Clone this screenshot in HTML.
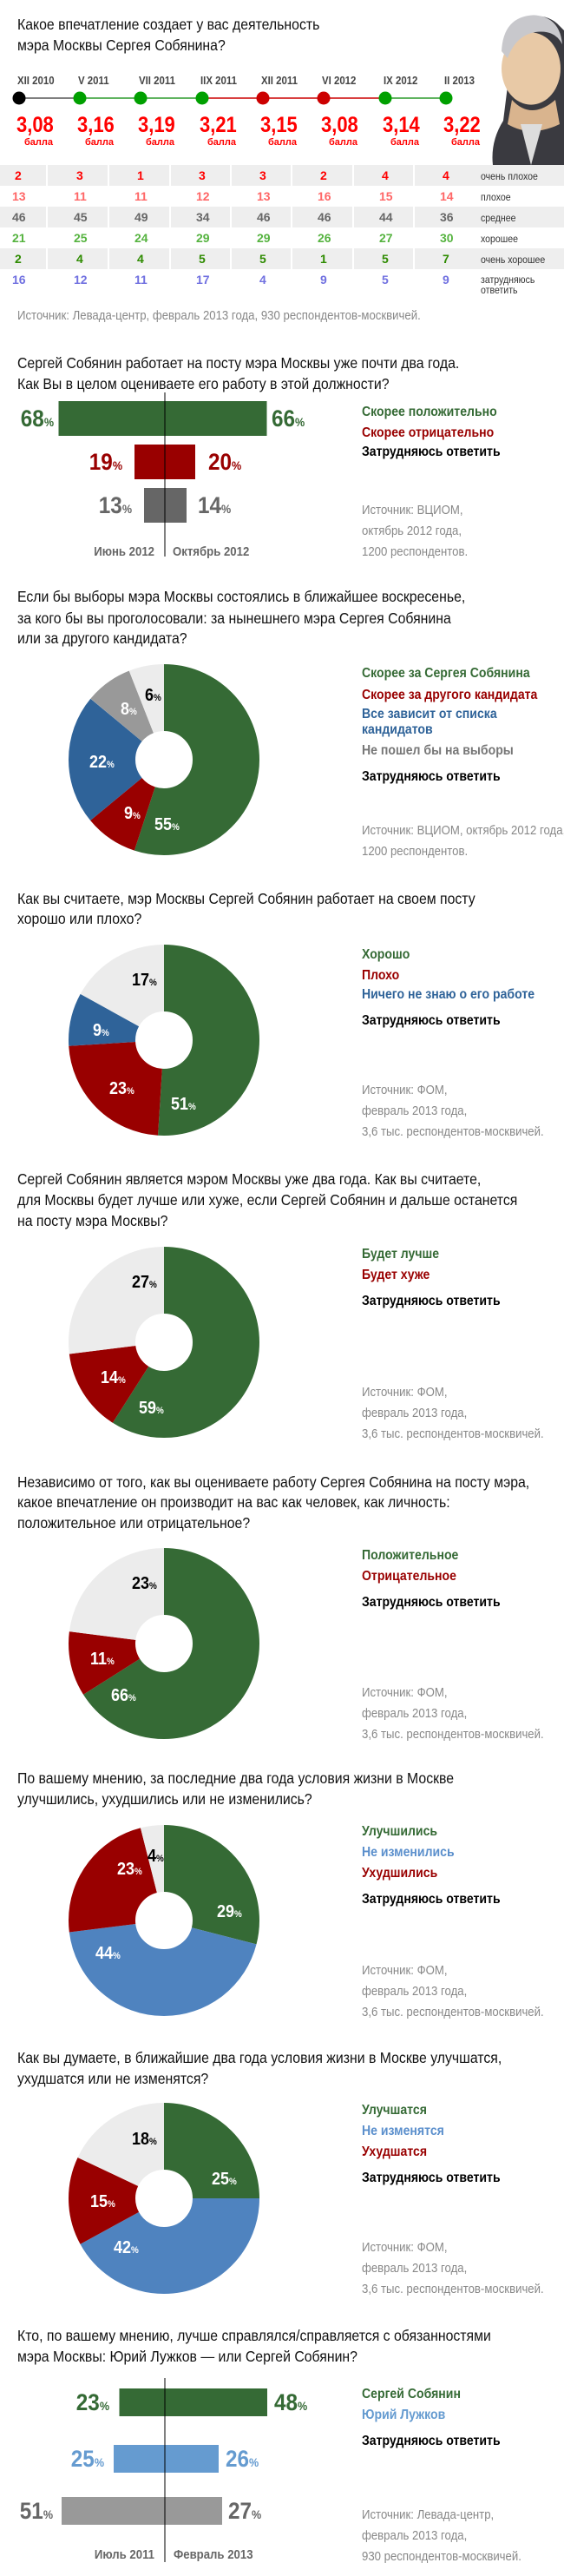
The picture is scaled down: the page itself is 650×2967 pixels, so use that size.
<!DOCTYPE html>
<html><head><meta charset="utf-8"><style>
html,body{margin:0;padding:0;background:#fff;width:650px;height:2967px;overflow:hidden}
svg{display:block}
text{font-family:"Liberation Sans Narrow","Liberation Sans",sans-serif;transform-box:fill-box;transform-origin:0 0}
.q{font-size:18px;fill:#111;transform:scaleX(.88)}
.src{font-size:15px;fill:#888;transform:scaleX(.88)}
.lg{font-size:16px;font-weight:bold;transform:scaleX(.88)}
.pl{font-size:20px;font-weight:bold;transform:scaleX(.9)}
.bl{font-size:27px;font-weight:bold;transform:scaleX(.9)}
.e{transform-origin:100% 0}
.n{transform:scaleX(.88)}
</style></head><body>
<svg width="650" height="2967" viewBox="0 0 650 2967" xmlns="http://www.w3.org/2000/svg">
<!-- Section 1 -->
<text class="q" x="20" y="34">Какое впечатление создает у вас деятельность</text>
<text class="q" x="20" y="58">мэра Москвы Сергея Собянина?</text>
<!-- portrait -->
<g transform="translate(0 3) scale(1 0.8)">
<path d="M585 120 Q575 60 600 25 Q625 12 642 30 L650 40 L650 234 L568 234 Q565 200 580 170 Z" fill="#3a3a40"/>
<ellipse cx="612" cy="95" rx="34" ry="52" fill="#e8c9a6"/>
<path d="M578 70 Q580 20 615 18 Q645 20 648 60 Q640 40 620 42 Q595 45 585 80 Z" fill="#c8c8cc"/>
<path d="M590 140 Q612 170 640 140 L645 175 Q612 195 585 175 Z" fill="#d9b48e"/>
<path d="M600 175 L612 234 L625 175 Z" fill="#ddd"/>
</g>
<!-- timeline -->
<g font-size="13" font-weight="bold" fill="#444">
<text class="n" x="20" y="97">XII 2010</text><text class="n" x="90" y="97">V 2011</text><text class="n" x="160" y="97">VII 2011</text><text class="n" x="231" y="97">IIX 2011</text>
<text class="n" x="301" y="97">XII 2011</text><text class="n" x="371" y="97">VI 2012</text><text class="n" x="442" y="97">IX 2012</text><text class="n" x="512" y="97">II 2013</text>
</g>
<line x1="22" y1="113" x2="92" y2="113" stroke="#555" stroke-width="1.5"/>
<line x1="92" y1="113" x2="233" y2="113" stroke="#2a9a2a" stroke-width="1.5"/>
<line x1="233" y1="113" x2="444" y2="113" stroke="#c00" stroke-width="1.5"/>
<line x1="444" y1="113" x2="514" y2="113" stroke="#2a9a2a" stroke-width="1.5"/>
<circle cx="22" cy="113" r="7.5" fill="#000"/>
<circle cx="92" cy="113" r="7.5" fill="#00a000"/><circle cx="162" cy="113" r="7.5" fill="#00a000"/><circle cx="233" cy="113" r="7.5" fill="#00a000"/>
<circle cx="303" cy="113" r="7.5" fill="#cc0000"/><circle cx="373" cy="113" r="7.5" fill="#cc0000"/>
<circle cx="444" cy="113" r="7.5" fill="#00a000"/><circle cx="514" cy="113" r="7.5" fill="#00a000"/>
<g font-size="25" font-weight="bold" fill="#ff0000">
<text class="n" x="19" y="152">3,08</text><text class="n" x="89" y="152">3,16</text><text class="n" x="159" y="152">3,19</text><text class="n" x="230" y="152">3,21</text>
<text class="n" x="300" y="152">3,15</text><text class="n" x="370" y="152">3,08</text><text class="n" x="441" y="152">3,14</text><text class="n" x="511" y="152">3,22</text>
</g>
<g font-size="11" font-weight="bold" fill="#ff0000" text-anchor="end">
<text x="61" y="167">балла</text><text x="131" y="167">балла</text><text x="201" y="167">балла</text><text x="272" y="167">балла</text>
<text x="342" y="167">балла</text><text x="412" y="167">балла</text><text x="483" y="167">балла</text><text x="553" y="167">балла</text>
</g>
<!-- table -->
<rect x="0" y="190" width="650" height="24" fill="#eee"/>
<rect x="0" y="238" width="650" height="24" fill="#eee"/>
<rect x="0" y="286" width="650" height="24" fill="#eee"/>
<g stroke="#fff" stroke-width="2">
<line x1="54" y1="190" x2="54" y2="340"/><line x1="125" y1="190" x2="125" y2="340"/><line x1="196" y1="190" x2="196" y2="340"/>
<line x1="266" y1="190" x2="266" y2="340"/><line x1="336" y1="190" x2="336" y2="340"/><line x1="407" y1="190" x2="407" y2="340"/><line x1="477" y1="190" x2="477" y2="340"/>
</g>
<g font-size="14" font-weight="bold">
<g fill="#ff0000"><text x="17" y="207">2</text><text x="88" y="207">3</text><text x="158" y="207">1</text><text x="229" y="207">3</text><text x="299" y="207">3</text><text x="369" y="207">2</text><text x="440" y="207">4</text><text x="510" y="207">4</text></g>
<g fill="#ff6666"><text x="14" y="231">13</text><text x="85" y="231">11</text><text x="155" y="231">11</text><text x="226" y="231">12</text><text x="296" y="231">13</text><text x="366" y="231">16</text><text x="437" y="231">15</text><text x="507" y="231">14</text></g>
<g fill="#666"><text x="14" y="255">46</text><text x="85" y="255">45</text><text x="155" y="255">49</text><text x="226" y="255">34</text><text x="296" y="255">46</text><text x="366" y="255">46</text><text x="437" y="255">44</text><text x="507" y="255">36</text></g>
<g fill="#55b33f"><text x="14" y="279">21</text><text x="85" y="279">25</text><text x="155" y="279">24</text><text x="226" y="279">29</text><text x="296" y="279">29</text><text x="366" y="279">26</text><text x="437" y="279">27</text><text x="507" y="279">30</text></g>
<g fill="#2e8b00"><text x="17" y="303">2</text><text x="88" y="303">4</text><text x="158" y="303">4</text><text x="229" y="303">5</text><text x="299" y="303">5</text><text x="369" y="303">1</text><text x="440" y="303">5</text><text x="510" y="303">7</text></g>
<g fill="#7070e0"><text x="14" y="327">16</text><text x="85" y="327">12</text><text x="155" y="327">11</text><text x="226" y="327">17</text><text x="299" y="327">4</text><text x="369" y="327">9</text><text x="440" y="327">5</text><text x="510" y="327">9</text></g>
</g>
<g font-size="12" fill="#333">
<text class="n" x="554" y="207">очень плохое</text><text class="n" x="554" y="231">плохое</text><text class="n" x="554" y="255">среднее</text>
<text class="n" x="554" y="279">хорошее</text><text class="n" x="554" y="303">очень хорошее</text><text class="n" x="554" y="326">затрудняюсь</text><text class="n" x="554" y="338">ответить</text>
</g>
<text class="src" x="20" y="368">Источник: Левада-центр, февраль 2013 года, 930 респондентов-москвичей.</text>

<!-- Section 2 -->
<text class="q" x="20" y="424">Сергей Собянин работает на посту мэра Москвы уже почти два года.</text>
<text class="q" x="20" y="448">Как Вы в целом оцениваете его работу в этой должности?</text>
<rect x="67.5" y="462" width="240" height="40" fill="#356a35"/>
<rect x="155" y="512" width="70" height="40" fill="#990000"/>
<rect x="166" y="562" width="49" height="40" fill="#666"/>
<line x1="190" y1="452" x2="190" y2="641" stroke="#000" stroke-width="1"/>
<text class="bl e" x="62" y="491" text-anchor="end" fill="#356a35">68<tspan font-size="14">%</tspan></text>
<text class="bl" x="313" y="491" fill="#356a35">66<tspan font-size="14">%</tspan></text>
<text class="bl e" x="141" y="541" text-anchor="end" fill="#990000">19<tspan font-size="14">%</tspan></text>
<text class="bl" x="240" y="541" fill="#990000">20<tspan font-size="14">%</tspan></text>
<text class="bl e" x="152" y="591" text-anchor="end" fill="#666">13<tspan font-size="14">%</tspan></text>
<text class="bl" x="228" y="591" fill="#666">14<tspan font-size="14">%</tspan></text>
<text class="n e" x="178" y="640" text-anchor="end" font-size="15" font-weight="bold" fill="#666">Июнь 2012</text>
<text class="n" x="199" y="640" font-size="15" font-weight="bold" fill="#666">Октябрь 2012</text>
<text class="lg" x="417" y="479" fill="#356a35">Скорее положительно</text>
<text class="lg" x="417" y="503" fill="#990000">Скорее отрицательно</text>
<text class="lg" x="417" y="525" fill="#000">Затрудняюсь ответить</text>
<text class="src" x="417" y="592">Источник: ВЦИОМ,</text>
<text class="src" x="417" y="616">октябрь 2012 года,</text>
<text class="src" x="417" y="640">1200 респондентов.</text>

<!-- Section 3 -->
<text class="q" x="20" y="693">Если бы выборы мэра Москвы состоялись в ближайшее воскресенье,</text>
<text class="q" x="20" y="718">за кого бы вы проголосовали:  за нынешнего мэра Сергея Собянина</text>
<text class="q" x="20" y="741">или за другого кандидата?</text>
<g transform="translate(189 875) rotate(-90)" fill="none" stroke-width="77">
<circle r="71.5" stroke="#356a35" stroke-dasharray="247.1 449.25"/>
<circle r="71.5" stroke="#990000" stroke-dasharray="40.4 449.25" stroke-dashoffset="-247.1"/>
<circle r="71.5" stroke="#2f6399" stroke-dasharray="98.8 449.25" stroke-dashoffset="-287.5"/>
<circle r="71.5" stroke="#999" stroke-dasharray="35.9 449.25" stroke-dashoffset="-386.4"/>
<circle r="71.5" stroke="#ececec" stroke-dasharray="27 449.25" stroke-dashoffset="-422.3"/>
</g>
<text class="pl" x="167" y="807" fill="#000">6<tspan font-size="11">%</tspan></text>
<text class="pl" x="139" y="823" fill="#fff">8<tspan font-size="11">%</tspan></text>
<text class="pl" x="103" y="884" fill="#fff">22<tspan font-size="11">%</tspan></text>
<text class="pl" x="143" y="943" fill="#fff">9<tspan font-size="11">%</tspan></text>
<text class="pl" x="178" y="956" fill="#fff">55<tspan font-size="11">%</tspan></text>
<text class="lg" x="417" y="780" fill="#356a35">Скорее за Сергея Собянина</text>
<text class="lg" x="417" y="805" fill="#990000">Скорее за другого кандидата</text>
<text class="lg" x="417" y="827" fill="#2f6399">Все зависит от списка</text>
<text class="lg" x="417" y="845" fill="#2f6399">кандидатов</text>
<text class="lg" x="417" y="869" fill="#777">Не пошел бы на выборы</text>
<text class="lg" x="417" y="899" fill="#000">Затрудняюсь ответить</text>
<text class="src" x="417" y="961">Источник: ВЦИОМ, октябрь 2012 года,</text>
<text class="src" x="417" y="985">1200 респондентов.</text>

<!-- Section 4 -->
<text class="q" x="20" y="1041">Как вы считаете, мэр Москвы Сергей Собянин работает на своем посту</text>
<text class="q" x="20" y="1064">хорошо или плохо?</text>
<g transform="translate(189 1198) rotate(-90)" fill="none" stroke-width="77">
<circle r="71.5" stroke="#356a35" stroke-dasharray="229.1 449.25"/>
<circle r="71.5" stroke="#990000" stroke-dasharray="103.3 449.25" stroke-dashoffset="-229.1"/>
<circle r="71.5" stroke="#2f6399" stroke-dasharray="40.4 449.25" stroke-dashoffset="-332.4"/>
<circle r="71.5" stroke="#ececec" stroke-dasharray="76.4 449.25" stroke-dashoffset="-372.8"/>
</g>
<text class="pl" x="152" y="1135" fill="#000">17<tspan font-size="11">%</tspan></text>
<text class="pl" x="107" y="1193" fill="#fff">9<tspan font-size="11">%</tspan></text>
<text class="pl" x="126" y="1260" fill="#fff">23<tspan font-size="11">%</tspan></text>
<text class="pl" x="197" y="1278" fill="#fff">51<tspan font-size="11">%</tspan></text>
<text class="lg" x="417" y="1104" fill="#356a35">Хорошо</text>
<text class="lg" x="417" y="1128" fill="#990000">Плохо</text>
<text class="lg" x="417" y="1150" fill="#2f6399">Ничего не знаю о его работе</text>
<text class="lg" x="417" y="1180" fill="#000">Затрудняюсь ответить</text>
<text class="src" x="417" y="1260">Источник: ФОМ,</text>
<text class="src" x="417" y="1284">февраль 2013 года,</text>
<text class="src" x="417" y="1308">3,6 тыс. респондентов-москвичей.</text>

<!-- Section 5 -->
<text class="q" x="20" y="1364">Сергей Собянин является мэром Москвы уже два года. Как вы считаете,</text>
<text class="q" x="20" y="1388">для Москвы будет лучше или хуже, если Сергей Собянин и дальше останется</text>
<text class="q" x="20" y="1412">на посту мэра Москвы?</text>
<g transform="translate(189 1546) rotate(-90)" fill="none" stroke-width="77">
<circle r="71.5" stroke="#356a35" stroke-dasharray="265.1 449.25"/>
<circle r="71.5" stroke="#990000" stroke-dasharray="62.9 449.25" stroke-dashoffset="-265.1"/>
<circle r="71.5" stroke="#ececec" stroke-dasharray="121.3 449.25" stroke-dashoffset="-328"/>
</g>
<text class="pl" x="152" y="1483" fill="#000">27<tspan font-size="11">%</tspan></text>
<text class="pl" x="116" y="1593" fill="#fff">14<tspan font-size="11">%</tspan></text>
<text class="pl" x="160" y="1628" fill="#fff">59<tspan font-size="11">%</tspan></text>
<text class="lg" x="417" y="1449" fill="#356a35">Будет лучше</text>
<text class="lg" x="417" y="1473" fill="#990000">Будет хуже</text>
<text class="lg" x="417" y="1503" fill="#000">Затрудняюсь ответить</text>
<text class="src" x="417" y="1608">Источник: ФОМ,</text>
<text class="src" x="417" y="1632">февраль 2013 года,</text>
<text class="src" x="417" y="1656">3,6 тыс. респондентов-москвичей.</text>

<!-- Section 6 -->
<text class="q" x="20" y="1713">Независимо от того, как вы оцениваете работу Сергея Собянина на посту мэра,</text>
<text class="q" x="20" y="1736">какое впечатление он производит на вас как человек, как личность:</text>
<text class="q" x="20" y="1760">положительное или отрицательное?</text>
<g transform="translate(189 1893) rotate(-90)" fill="none" stroke-width="77">
<circle r="71.5" stroke="#356a35" stroke-dasharray="296.5 449.25"/>
<circle r="71.5" stroke="#990000" stroke-dasharray="49.4 449.25" stroke-dashoffset="-296.5"/>
<circle r="71.5" stroke="#ececec" stroke-dasharray="103.3 449.25" stroke-dashoffset="-345.9"/>
</g>
<text class="pl" x="152" y="1830" fill="#000">23<tspan font-size="11">%</tspan></text>
<text class="pl" x="104" y="1917" fill="#fff">11<tspan font-size="11">%</tspan></text>
<text class="pl" x="128" y="1959" fill="#fff">66<tspan font-size="11">%</tspan></text>
<text class="lg" x="417" y="1796" fill="#356a35">Положительное</text>
<text class="lg" x="417" y="1820" fill="#990000">Отрицательное</text>
<text class="lg" x="417" y="1850" fill="#000">Затрудняюсь ответить</text>
<text class="src" x="417" y="1954">Источник: ФОМ,</text>
<text class="src" x="417" y="1978">февраль 2013 года,</text>
<text class="src" x="417" y="2002">3,6 тыс. респондентов-москвичей.</text>

<!-- Section 7 -->
<text class="q" x="20" y="2054">По вашему мнению, за последние два года условия жизни в Москве</text>
<text class="q" x="20" y="2078">улучшились, ухудшились или не изменились?</text>
<g transform="translate(189 2212) rotate(-90)" fill="none" stroke-width="77">
<circle r="71.5" stroke="#356a35" stroke-dasharray="130.3 449.25"/>
<circle r="71.5" stroke="#4f83bf" stroke-dasharray="197.7 449.25" stroke-dashoffset="-130.3"/>
<circle r="71.5" stroke="#990000" stroke-dasharray="103.3 449.25" stroke-dashoffset="-328"/>
<circle r="71.5" stroke="#ececec" stroke-dasharray="18 449.25" stroke-dashoffset="-431.3"/>
</g>
<text class="pl" x="170" y="2144" fill="#000">4<tspan font-size="11">%</tspan></text>
<text class="pl" x="135" y="2159" fill="#fff">23<tspan font-size="11">%</tspan></text>
<text class="pl" x="250" y="2208" fill="#fff">29<tspan font-size="11">%</tspan></text>
<text class="pl" x="110" y="2256" fill="#fff">44<tspan font-size="11">%</tspan></text>
<text class="lg" x="417" y="2114" fill="#356a35">Улучшились</text>
<text class="lg" x="417" y="2138" fill="#5b8fcc">Не изменились</text>
<text class="lg" x="417" y="2162" fill="#990000">Ухудшились</text>
<text class="lg" x="417" y="2192" fill="#000">Затрудняюсь ответить</text>
<text class="src" x="417" y="2274">Источник: ФОМ,</text>
<text class="src" x="417" y="2298">февраль 2013 года,</text>
<text class="src" x="417" y="2322">3,6 тыс. респондентов-москвичей.</text>

<!-- Section 8 -->
<text class="q" x="20" y="2376">Как вы думаете, в ближайшие два года условия жизни в Москве улучшатся,</text>
<text class="q" x="20" y="2400">ухудшатся или не изменятся?</text>
<g transform="translate(189 2532) rotate(-90)" fill="none" stroke-width="77">
<circle r="71.5" stroke="#356a35" stroke-dasharray="112.3 449.25"/>
<circle r="71.5" stroke="#4f83bf" stroke-dasharray="188.7 449.25" stroke-dashoffset="-112.3"/>
<circle r="71.5" stroke="#990000" stroke-dasharray="67.4 449.25" stroke-dashoffset="-301"/>
<circle r="71.5" stroke="#ececec" stroke-dasharray="80.9 449.25" stroke-dashoffset="-368.4"/>
</g>
<text class="pl" x="152" y="2470" fill="#000">18<tspan font-size="11">%</tspan></text>
<text class="pl" x="244" y="2516" fill="#fff">25<tspan font-size="11">%</tspan></text>
<text class="pl" x="104" y="2542" fill="#fff">15<tspan font-size="11">%</tspan></text>
<text class="pl" x="131" y="2595" fill="#fff">42<tspan font-size="11">%</tspan></text>
<text class="lg" x="417" y="2435" fill="#356a35">Улучшатся</text>
<text class="lg" x="417" y="2459" fill="#5b8fcc">Не изменятся</text>
<text class="lg" x="417" y="2483" fill="#990000">Ухудшатся</text>
<text class="lg" x="417" y="2513" fill="#000">Затрудняюсь ответить</text>
<text class="src" x="417" y="2593">Источник: ФОМ,</text>
<text class="src" x="417" y="2617">февраль 2013 года,</text>
<text class="src" x="417" y="2641">3,6 тыс. респондентов-москвичей.</text>

<!-- Section 9 -->
<text class="q" x="20" y="2696">Кто, по вашему мнению, лучше справлялся/справляется с обязанностями</text>
<text class="q" x="20" y="2720">мэра Москвы: Юрий Лужков — или Сергей Собянин?</text>
<rect x="137.5" y="2751" width="170.5" height="32" fill="#356a35"/>
<rect x="131" y="2816" width="121" height="32" fill="#659bd0"/>
<rect x="71" y="2876" width="185" height="32" fill="#999"/>
<line x1="190" y1="2739" x2="190" y2="2951" stroke="#000" stroke-width="1"/>
<text class="bl e" x="126" y="2776" text-anchor="end" fill="#356a35">23<tspan font-size="14">%</tspan></text>
<text class="bl" x="316" y="2776" fill="#356a35">48<tspan font-size="14">%</tspan></text>
<text class="bl e" x="120" y="2841" text-anchor="end" fill="#659bd0">25<tspan font-size="14">%</tspan></text>
<text class="bl" x="260" y="2841" fill="#659bd0">26<tspan font-size="14">%</tspan></text>
<text class="bl e" x="61" y="2901" text-anchor="end" fill="#666">51<tspan font-size="14">%</tspan></text>
<text class="bl" x="263" y="2901" fill="#666">27<tspan font-size="14">%</tspan></text>
<text class="n e" x="178" y="2947" text-anchor="end" font-size="15" font-weight="bold" fill="#666">Июль 2011</text>
<text class="n" x="200" y="2947" font-size="15" font-weight="bold" fill="#666">Февраль 2013</text>
<text class="lg" x="417" y="2762" fill="#356a35">Сергей Собянин</text>
<text class="lg" x="417" y="2786" fill="#659bd0">Юрий Лужков</text>
<text class="lg" x="417" y="2816" fill="#000">Затрудняюсь ответить</text>
<text class="src" x="417" y="2901">Источник: Левада-центр,</text>
<text class="src" x="417" y="2925">февраль 2013 года,</text>
<text class="src" x="417" y="2949">930 респондентов-москвичей.</text>
</svg>
</body></html>
